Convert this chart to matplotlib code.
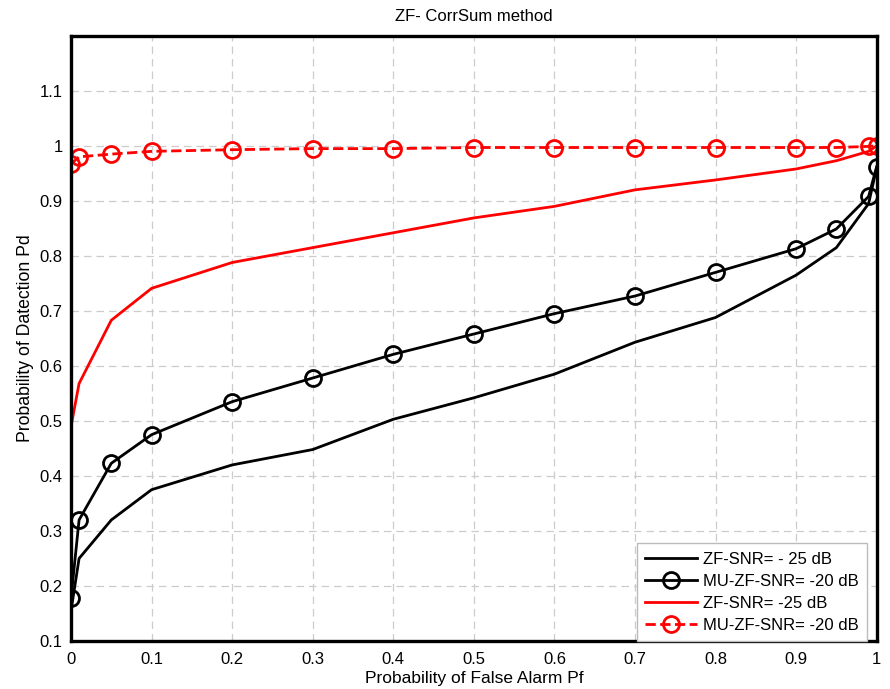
import matplotlib
matplotlib.use("Agg")
import matplotlib.pyplot as plt
from matplotlib.ticker import FuncFormatter

plt.rcParams['font.family'] = ['Liberation Sans', 'DejaVu Sans']

pf = [0, 0.01, 0.05, 0.1, 0.2, 0.3, 0.4, 0.5, 0.6, 0.7, 0.8, 0.9, 0.95, 0.99, 1.0]
zf_black = [0.155, 0.25, 0.32, 0.375, 0.42, 0.448, 0.503, 0.542, 0.585, 0.643, 0.688, 0.765, 0.815, 0.895, 0.96]
mu_black = [0.178, 0.32, 0.423, 0.475, 0.535, 0.578, 0.621, 0.658, 0.695, 0.727, 0.770, 0.813, 0.849, 0.908, 0.962]
zf_red = [0.49, 0.568, 0.683, 0.741, 0.788, 0.815, 0.842, 0.869, 0.89, 0.92, 0.938, 0.958, 0.973, 0.99, 1.0]
mu_red = [0.967, 0.98, 0.985, 0.99, 0.993, 0.995, 0.995, 0.997, 0.997, 0.997, 0.997, 0.997, 0.997, 0.999, 1.0]

labels = ['ZF-SNR= - 25 dB', 'MU-ZF-SNR= -20 dB', 'ZF-SNR= -25 dB', 'MU-ZF-SNR= -20 dB']
xticks = [0, 0.1, 0.2, 0.3, 0.4, 0.5, 0.6, 0.7, 0.8, 0.9, 1]
yticks = [0.1, 0.2, 0.3, 0.4, 0.5, 0.6, 0.7, 0.8, 0.9, 1.0, 1.1]

fig = plt.figure(figsize=(8.9, 6.89), dpi=100)
ax = fig.add_axes([0.0798, 0.0697, 0.9052, 0.8783])

ms = 11.5
ax.plot(pf, zf_black, color='black', lw=2, label=labels[0])
ax.plot(pf, mu_black, color='black', lw=2, marker='o', ms=ms, mfc='none', mew=2, label=labels[1])
ax.plot(pf, zf_red, color='red', lw=2, label=labels[2])
ax.plot(pf, mu_red, color='red', lw=2, ls='--', marker='o', ms=ms, mfc='none', mew=2, label=labels[3])

ax.set_xlim(0, 1)
ax.set_ylim(0.1, 1.2)
ax.set_xticks(xticks)
ax.set_yticks(yticks)
fmt = FuncFormatter(lambda v, p: ('%g' % round(v, 2)))
ax.xaxis.set_major_formatter(fmt)
ax.yaxis.set_major_formatter(fmt)
ax.tick_params(labelsize=12, length=0)
ax.tick_params(axis='y', pad=6)
ax.tick_params(axis='x', pad=8)
ax.grid(True, color='#cccccc', ls=(0, (6, 4)), lw=0.9)
for s in ax.spines.values():
    s.set_linewidth(2.4)
    s.set_color('black')

ax.set_title('ZF- CorrSum method', fontsize=12, pad=11)
ax.set_xlabel('Probability of False Alarm Pf', fontsize=12.5, labelpad=3)
ax.set_ylabel('Probability of Datection Pd', fontsize=12.7, labelpad=4)

leg = ax.legend(loc='lower right', bbox_to_anchor=(0.988, 0.0), fontsize=12,
                frameon=True, fancybox=False, edgecolor='#bbbbbb', framealpha=1,
                handlelength=3.1, handletextpad=0.35, borderaxespad=0.0,
                labelspacing=0.42, borderpad=0.5)
leg.get_frame().set_linewidth(1.0)

fig.savefig('out.png', dpi=100)
